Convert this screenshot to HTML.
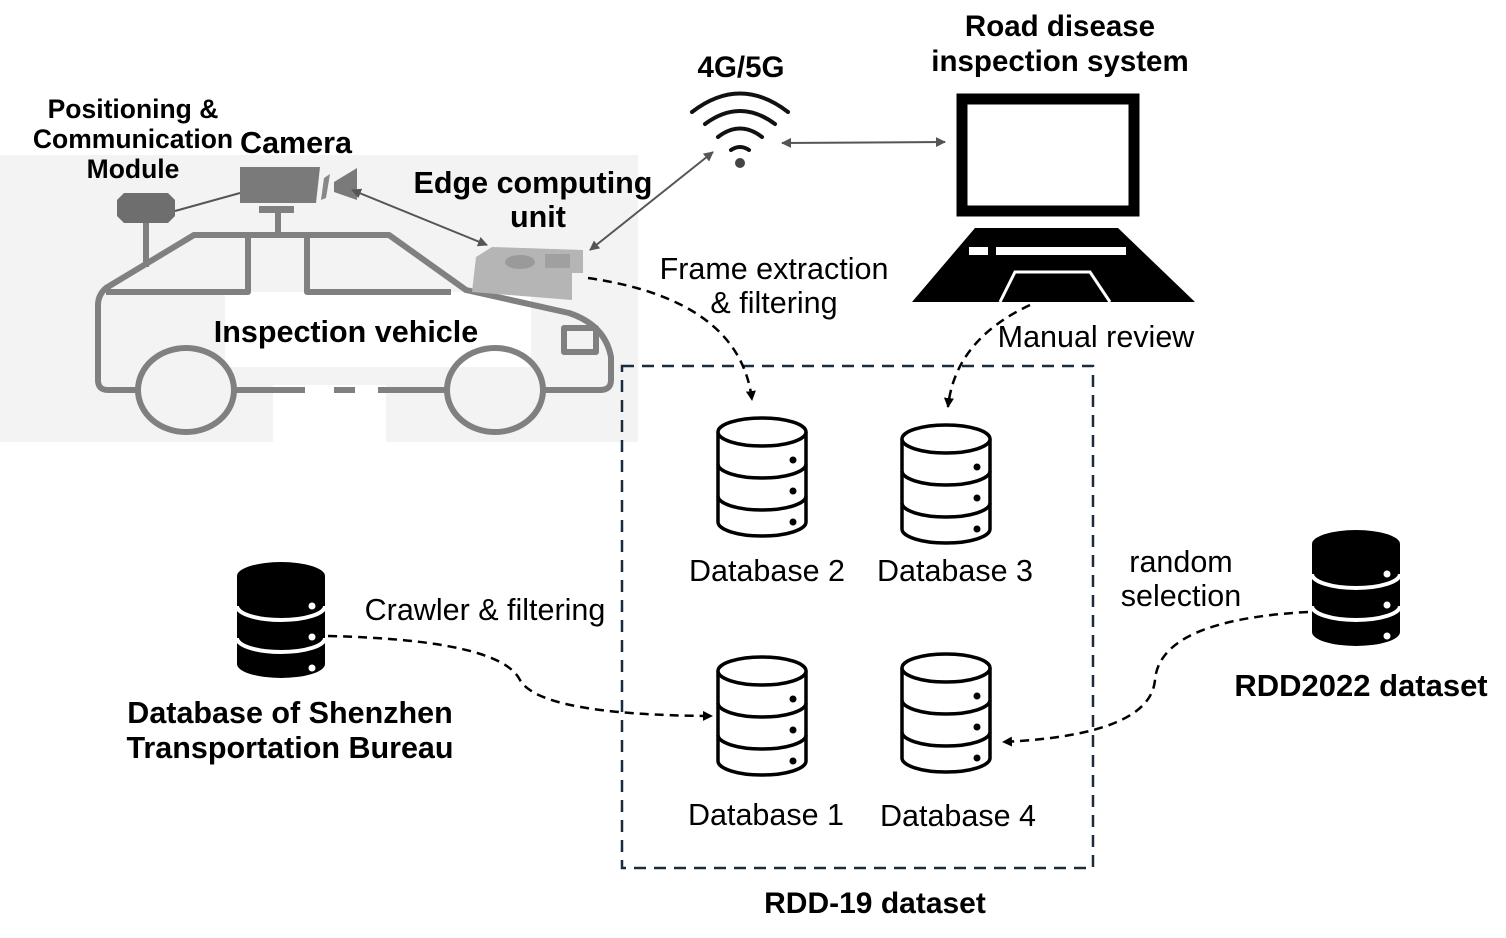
<!DOCTYPE html>
<html><head><meta charset="utf-8"><style>
html,body{margin:0;padding:0;background:#fff;}
svg{display:block;}
text{font-family:"Liberation Sans",sans-serif;}
.b{font-weight:bold;}
</style></head><body>
<svg width="1506" height="938" viewBox="0 0 1506 938" xmlns="http://www.w3.org/2000/svg">
<defs>
<marker id="ag" markerWidth="10" markerHeight="10" refX="9" refY="5" orient="auto-start-reverse" markerUnits="userSpaceOnUse"><path d="M0,0 L10,5 L0,10 z" fill="#555"/></marker>
<marker id="ak" markerWidth="10" markerHeight="10" refX="9" refY="5" orient="auto" markerUnits="userSpaceOnUse"><path d="M0,0 L10,5 L0,10 z" fill="#000"/></marker>
<g id="db">
<path d="M0,14 L0,104 A44,14 0 0 0 88,104 L88,14" fill="#fff" stroke="#000" stroke-width="3.5"/>
<ellipse cx="44" cy="14" rx="44" ry="14" fill="#fff" stroke="#000" stroke-width="3.5"/>
<path d="M0,46 A44,14 0 0 0 88,46 M0,78 A44,14 0 0 0 88,78" fill="none" stroke="#000" stroke-width="3.5"/>
<circle cx="75" cy="42" r="3.5"/><circle cx="75" cy="73" r="3.5"/><circle cx="75" cy="104" r="3.5"/>
</g>
<g id="dbk">
<path d="M0,14 L0,102 A44,14 0 0 0 88,102 L88,14" fill="#000"/>
<ellipse cx="44" cy="14" rx="44" ry="14" fill="#000"/>
<path d="M0,44 A44,14 0 0 0 88,44 M0,76 A44,14 0 0 0 88,76" fill="none" stroke="#fff" stroke-width="4"/>
<circle cx="75" cy="44" r="3.5" fill="#fff"/><circle cx="75" cy="75" r="3.5" fill="#fff"/><circle cx="75" cy="106" r="3.5" fill="#fff"/>
</g>
</defs>

<rect x="0" y="155" width="638" height="287" fill="#f3f3f3"/>
<rect x="273" y="385" width="113" height="57" fill="#fff"/>
<rect x="225" y="292" width="306" height="75" fill="#fff"/>
<g fill="none" stroke="#808080" stroke-width="6" stroke-linejoin="round">
<path d="M138,390 L108,390 Q98,390 98,380 L98,305 Q98,295 106,288 L194,235 L389,235 L466,290 L569,313 Q605,325 611,357 L611,380 Q611,390 600,390 L543,390"/>
<path d="M234,390 L305,390 M334,390 L355,390 M378,390 L447,390"/>
<path d="M106,292 L248,292 L248,235 M307,235 L307,292 L451,292"/>
<rect x="564" y="328" width="32" height="24"/>
<ellipse cx="186" cy="390" rx="48" ry="42"/>
<ellipse cx="495" cy="390" rx="48" ry="42"/>
<line x1="146" y1="223" x2="146" y2="267"/>
<line x1="278" y1="210" x2="278" y2="235"/>
</g>
<rect x="259" y="206" width="35" height="7" fill="#808080"/>
<path d="M240,167 L320,167 L316,203 L240,203z" fill="#7a7a7a"/>
<path d="M324,178 L330,174 L326,198 L321,200z" fill="#888"/>
<path d="M334,182 L357,168 L357,200 L334,192z" fill="#7a7a7a"/>
<path d="M124,193 L168,193 L175,200 L175,216 L168,223 L124,223 L117,216 L117,200z" fill="#6e6e6e"/>
<line x1="175" y1="211" x2="240" y2="193" stroke="#555" stroke-width="2"/>
<path d="M476,257 L492,247 L583,250 L583,273 L572,273 L572,300 L472,292z" fill="#b5b5b5"/>
<ellipse cx="520" cy="262" rx="15" ry="7" fill="#9a9a9a"/>
<rect x="545" y="254" width="25" height="14" fill="#a0a0a0"/>

<line x1="352" y1="190" x2="487" y2="245" stroke="#555" stroke-width="2" marker-start="url(#ag)" marker-end="url(#ag)"/>
<line x1="590" y1="250" x2="713" y2="152" stroke="#555" stroke-width="2" marker-start="url(#ag)" marker-end="url(#ag)"/>
<line x1="782" y1="143" x2="945" y2="142" stroke="#555" stroke-width="2" marker-start="url(#ag)" marker-end="url(#ag)"/>

<g fill="none" stroke="#111" stroke-width="4" stroke-linecap="round">
<path d="M692,112 Q740,75 788,112"/>
<path d="M705,124 Q740,98 775,124"/>
<path d="M718,137 Q740,120 762,137"/>
<path d="M731,150 Q740,144 749,150"/>
</g>
<circle cx="740" cy="163" r="5" fill="#444"/>

<rect x="962" y="99" width="172" height="112" fill="none" stroke="#000" stroke-width="11"/>
<path d="M975,228 L1118,228 L1195,302 L912,302z" fill="#000"/>
<rect x="969" y="247" width="19" height="8" fill="#fff"/>
<rect x="996" y="247" width="130" height="8" fill="#fff"/>
<path d="M1000,302 L1015,272 L1090,272 L1110,302" fill="none" stroke="#fff" stroke-width="3"/>

<rect x="622" y="366" width="471" height="502" fill="none" stroke="#1c2b3a" stroke-width="2.5" stroke-dasharray="12,8"/>

<use href="#db" x="718" y="418"/>
<use href="#db" x="902" y="425"/>
<use href="#db" x="718" y="657"/>
<use href="#db" x="902" y="654"/>
<use href="#dbk" x="237" y="562"/>
<use href="#dbk" x="1312" y="530"/>

<g fill="none" stroke="#000" stroke-width="2.5" stroke-dasharray="9,6">
<path d="M588,278 Q740,300 752,400" marker-end="url(#ak)"/>
<path d="M1030,305 Q955,340 948,407" marker-end="url(#ak)"/>
<path d="M328,636 Q500,640 520,680 Q540,715 712,716" marker-end="url(#ak)"/>
<path d="M1308,612 Q1160,620 1155,680 Q1150,735 1003,742" marker-end="url(#ak)"/>
</g>

<g class="b" text-anchor="middle" fill="#000">
<text x="133" y="118" font-size="26.5">Positioning &amp;</text>
<text x="133" y="148" font-size="26.5">Communication</text>
<text x="133" y="178" font-size="26.5">Module</text>
<text x="296" y="153" font-size="30.5">Camera</text>
<text x="533" y="193" font-size="30.5">Edge computing</text>
<text x="538" y="227" font-size="30.5">unit</text>
<text x="346" y="342" font-size="30.5">Inspection vehicle</text>
<text x="741" y="77" font-size="29.5">4G/5G</text>
<text x="1060" y="36" font-size="29.5">Road disease</text>
<text x="1060" y="71" font-size="29.5">inspection system</text>
<text x="290" y="723" font-size="30.5">Database of Shenzhen</text>
<text x="290" y="758" font-size="30.5">Transportation Bureau</text>
<text x="1361" y="696" font-size="31">RDD2022 dataset</text>
<text x="875" y="913" font-size="30">RDD-19 dataset</text>
</g>
<g font-size="30.5" text-anchor="middle" fill="#000">
<text x="774" y="279">Frame extraction</text>
<text x="774" y="313">&amp; filtering</text>
<text x="1096" y="347">Manual review</text>
<text x="767" y="581">Database 2</text>
<text x="955" y="581">Database 3</text>
<text x="766" y="825">Database 1</text>
<text x="958" y="826">Database 4</text>
<text x="485" y="620">Crawler &amp; filtering</text>
<text x="1181" y="572">random</text>
<text x="1181" y="606">selection</text>
</g>
</svg>
</body></html>
